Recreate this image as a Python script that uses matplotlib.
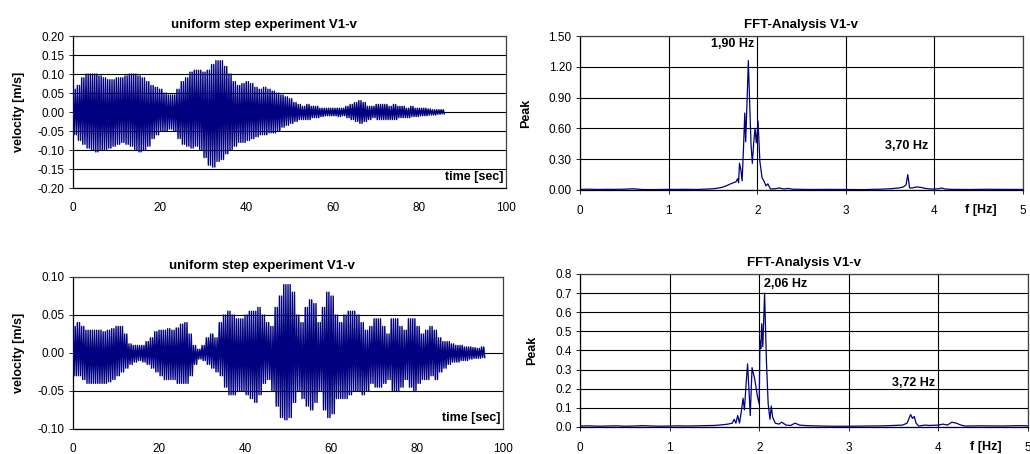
import numpy as np
import matplotlib
matplotlib.use("Agg")
import matplotlib.pyplot as plt

plt.rcParams['font.family'] = ['Liberation Sans', 'DejaVu Sans']

# envelope of the velocity signal, read once per second (upper / lower peaks)
v1_upper = [0.06, 0.07, 0.09, 0.10, 0.10, 0.10, 0.095, 0.09, 0.085, 0.085,
            0.09, 0.09, 0.095, 0.10, 0.10, 0.095, 0.09, 0.08, 0.07, 0.065,
            0.06, 0.05, 0.045, 0.045, 0.06, 0.08, 0.09, 0.105, 0.11, 0.11,
            0.105, 0.11, 0.125, 0.135, 0.135, 0.12, 0.10, 0.08, 0.07, 0.075,
            0.08, 0.075, 0.065, 0.06, 0.065, 0.06, 0.055, 0.05, 0.045, 0.04,
            0.035, 0.025, 0.02, 0.015, 0.02, 0.015, 0.015, 0.01, 0.01, 0.01,
            0.01, 0.01, 0.01, 0.015, 0.02, 0.025, 0.03, 0.025, 0.015, 0.015,
            0.02, 0.02, 0.02, 0.015, 0.02, 0.015, 0.015, 0.01, 0.015, 0.01,
            0.01, 0.01, 0.008, 0.006, 0.006, 0.006]
v1_lower = [-0.06, -0.075, -0.085, -0.095, -0.10, -0.105, -0.10, -0.10, -0.095, -0.09,
            -0.085, -0.08, -0.085, -0.09, -0.10, -0.105, -0.10, -0.09, -0.07, -0.06,
            -0.05, -0.05, -0.045, -0.05, -0.07, -0.085, -0.09, -0.095, -0.09, -0.10,
            -0.12, -0.14, -0.145, -0.13, -0.125, -0.11, -0.10, -0.09, -0.08, -0.08,
            -0.075, -0.07, -0.065, -0.06, -0.06, -0.055, -0.055, -0.05, -0.04, -0.035,
            -0.03, -0.025, -0.02, -0.02, -0.02, -0.015, -0.015, -0.012, -0.01, -0.01,
            -0.01, -0.012, -0.01, -0.015, -0.02, -0.025, -0.03, -0.025, -0.02, -0.015,
            -0.02, -0.02, -0.02, -0.02, -0.02, -0.015, -0.015, -0.015, -0.012, -0.012,
            -0.01, -0.01, -0.008, -0.008, -0.006, -0.005]

v2_upper = [0.035, 0.04, 0.035, 0.03, 0.03, 0.03, 0.03, 0.028, 0.03, 0.032,
            0.035, 0.035, 0.025, 0.012, 0.01, 0.01, 0.01, 0.015, 0.02, 0.028,
            0.03, 0.03, 0.032, 0.03, 0.033, 0.038, 0.04, 0.025, 0.01, 0.005,
            0.01, 0.02, 0.025, 0.02, 0.04, 0.05, 0.055, 0.05, 0.045, 0.045,
            0.05, 0.055, 0.055, 0.06, 0.05, 0.04, 0.035, 0.06, 0.075, 0.09,
            0.09, 0.08, 0.05, 0.04, 0.06, 0.07, 0.065, 0.04, 0.06, 0.08,
            0.075, 0.05, 0.04, 0.05, 0.055, 0.055, 0.05, 0.04, 0.03, 0.035,
            0.045, 0.045, 0.035, 0.025, 0.045, 0.045, 0.035, 0.03, 0.045, 0.045,
            0.035, 0.025, 0.03, 0.035, 0.03, 0.02, 0.015, 0.015, 0.012, 0.01,
            0.01, 0.008, 0.008, 0.007, 0.006, 0.008]
v2_lower = [-0.03, -0.03, -0.035, -0.04, -0.04, -0.04, -0.04, -0.04, -0.038, -0.035,
            -0.03, -0.025, -0.02, -0.015, -0.012, -0.01, -0.012, -0.015, -0.02, -0.025,
            -0.03, -0.035, -0.035, -0.035, -0.04, -0.04, -0.04, -0.03, -0.015, -0.008,
            -0.01, -0.015, -0.02, -0.025, -0.03, -0.045, -0.055, -0.055, -0.05, -0.05,
            -0.055, -0.06, -0.065, -0.055, -0.04, -0.035, -0.05, -0.07, -0.085, -0.088,
            -0.085, -0.065, -0.05, -0.06, -0.07, -0.075, -0.065, -0.05, -0.075, -0.085,
            -0.08, -0.06, -0.06, -0.06, -0.055, -0.05, -0.05, -0.055, -0.05, -0.04,
            -0.045, -0.045, -0.04, -0.035, -0.05, -0.05, -0.045, -0.035, -0.045, -0.05,
            -0.04, -0.035, -0.035, -0.03, -0.035, -0.025, -0.02, -0.015, -0.012, -0.012,
            -0.01, -0.01, -0.008, -0.007, -0.007, -0.006]

# FFT spectra
f1 = [0.0, 0.1, 0.2, 0.3, 0.4, 0.5, 0.6, 0.7, 0.8, 0.9, 1.0, 1.1, 1.2, 1.3, 1.4,
      1.5, 1.55, 1.6, 1.65, 1.7, 1.73, 1.76, 1.78, 1.79, 1.80, 1.815, 1.83, 1.845,
      1.86, 1.87, 1.885, 1.90, 1.915, 1.93, 1.945, 1.96, 1.975, 1.99, 2.01, 2.03,
      2.055, 2.08, 2.10, 2.12, 2.15, 2.2, 2.25, 2.3, 2.35, 2.4, 2.5, 2.6, 2.8, 3.0,
      3.2, 3.4, 3.5, 3.6, 3.65, 3.68, 3.70, 3.72, 3.75, 3.8, 3.85, 3.9, 3.95, 4.0,
      4.05, 4.08, 4.12, 4.2, 4.4, 4.6, 4.8, 5.0]
p1 = [0.006, 0.008, 0.005, 0.007, 0.006, 0.008, 0.012, 0.005, 0.004, 0.005,
      0.006, 0.006, 0.007, 0.005, 0.008, 0.012, 0.018, 0.025, 0.04, 0.06, 0.07,
      0.08, 0.11, 0.07, 0.26, 0.2, 0.09, 0.4, 0.75, 0.47, 0.85, 1.26, 0.85, 0.45,
      0.26, 0.45, 0.60, 0.46, 0.67, 0.28, 0.12, 0.08, 0.04, 0.06, 0.01, 0.012,
      0.02, 0.01, 0.015, 0.008, 0.006, 0.005, 0.006, 0.005, 0.004, 0.008, 0.012,
      0.02, 0.03, 0.05, 0.15, 0.02, 0.02, 0.03, 0.025, 0.015, 0.01, 0.01, 0.012,
      0.02, 0.01, 0.006, 0.005, 0.007, 0.006, 0.005]

f2 = [0.0, 0.1, 0.2, 0.3, 0.4, 0.5, 0.6, 0.7, 0.8, 0.9, 1.0, 1.1, 1.2, 1.3, 1.4,
      1.5, 1.55, 1.6, 1.65, 1.7, 1.72, 1.74, 1.76, 1.78, 1.80, 1.82, 1.835, 1.85,
      1.87, 1.885, 1.90, 1.92, 1.95, 1.98, 2.0, 2.008, 2.018, 2.028, 2.04, 2.06,
      2.08, 2.10, 2.12, 2.135, 2.15, 2.18, 2.22, 2.25, 2.3, 2.35, 2.4, 2.45, 2.5,
      2.6, 2.8, 3.0, 3.2, 3.4, 3.5, 3.6, 3.65, 3.69, 3.71, 3.73, 3.75, 3.78, 3.85,
      3.9, 4.0, 4.05, 4.1, 4.15, 4.2, 4.25, 4.3, 4.5, 4.7, 4.9, 5.0]
p2 = [0.005, 0.006, 0.004, 0.005, 0.006, 0.004, 0.005, 0.007, 0.005, 0.004,
      0.005, 0.006, 0.005, 0.006, 0.007, 0.008, 0.01, 0.012, 0.015, 0.02, 0.04,
      0.02, 0.06, 0.02, 0.08, 0.15, 0.09, 0.2, 0.33, 0.2, 0.06, 0.31, 0.25, 0.16,
      0.12, 0.45, 0.41, 0.54, 0.42, 0.70, 0.35, 0.12, 0.04, 0.11, 0.05, 0.02,
      0.015, 0.025, 0.01, 0.008, 0.02, 0.01, 0.008, 0.006, 0.004, 0.004, 0.005,
      0.006, 0.008, 0.01, 0.02, 0.065, 0.045, 0.055, 0.02, 0.005, 0.01, 0.008,
      0.01, 0.015, 0.01, 0.025, 0.02, 0.01, 0.005, 0.006, 0.005, 0.007, 0.006]

line_col = '#000080'


def zigzag(upper, lower):
    # roughly two cycles per second (~1.9 Hz), each at that second's peak levels
    n = len(upper)
    t = np.arange(n, dtype=float)
    x = np.empty(4 * n)
    y = np.empty(4 * n)
    for k in range(4):
        x[k::4] = t + 0.25 * k
    y[0::4] = upper
    y[1::4] = lower
    y[2::4] = upper
    y[3::4] = lower
    return x, y


def style_axes(ax):
    for s in ax.spines.values():
        s.set_color('#404040')
        s.set_linewidth(0.9)
    ax.spines['left'].set_color('black')
    ax.spines['bottom'].set_color('black')
    ax.tick_params(axis='both', labelsize=8.5, colors='black')


def time_panel(ax, upper, lower, ylim, yticks, fmt):
    x, y = zigzag(upper, lower)
    ax.plot(x, y, color=line_col, lw=1.0, zorder=3)
    ax.set_xlim(0, 100)
    ax.set_ylim(*ylim)
    ax.set_yticks(yticks)
    ax.set_yticklabels([fmt % v for v in yticks])
    ax.set_xticks([0, 20, 40, 60, 80, 100])
    ax.yaxis.grid(True, color='black', lw=0.8)
    ax.set_axisbelow(True)
    ax.tick_params(axis='x', length=0, pad=10)
    ax.tick_params(axis='y', length=3, width=0.6, color='#606060', pad=3)
    ax.set_ylabel('velocity [m/s]', fontsize=9, fontweight='bold', labelpad=9)
    ax.text(0.995, 0.035, 'time [sec]', transform=ax.transAxes, ha='right',
            va='bottom', fontsize=9, fontweight='bold')
    ax.set_title('uniform step experiment V1-v', fontsize=9.5, fontweight='bold',
                 pad=6, x=0.44)
    style_axes(ax)


def fft_panel(ax, f, p, ylim, yticks, fmt, labels):
    ax.plot(f, p, color=line_col, lw=0.9, zorder=3)
    ax.set_xlim(0, 5)
    ax.set_ylim(*ylim)
    ax.set_yticks(yticks)
    ax.set_yticklabels([fmt % v for v in yticks])
    ax.set_xticks([0, 1, 2, 3, 4, 5])
    ax.grid(True, color='black', lw=0.8)
    ax.set_axisbelow(True)
    ax.tick_params(axis='x', length=3, width=0.6, pad=8)
    ax.tick_params(axis='y', length=3, width=0.6, color='#606060', pad=3)
    ax.set_ylabel('Peak', fontsize=9, fontweight='bold', labelpad=12)
    ax.set_title('FFT-Analysis V1-v', fontsize=9.5, fontweight='bold', pad=6)
    for xt, yt, txt in labels:
        ax.text(xt, yt, txt, ha='center', va='center', fontsize=9, fontweight='bold')
    ax.text(0.905, -0.13, 'f [Hz]', transform=ax.transAxes, ha='center',
            va='center', fontsize=9, fontweight='bold')
    style_axes(ax)


fig = plt.figure(figsize=(10.3, 4.54), dpi=100)

ax1 = fig.add_axes([0.0709, 0.5859, 0.4204, 0.3348])
time_panel(ax1, v1_upper, v1_lower, (-0.2, 0.2),
           [-0.20, -0.15, -0.10, -0.05, 0.0, 0.05, 0.10, 0.15, 0.20], '%.2f')

ax2 = fig.add_axes([0.5631, 0.5815, 0.4301, 0.3392])
fft_panel(ax2, f1, p1, (0, 1.5), [0.0, 0.3, 0.6, 0.9, 1.2, 1.5], '%.2f',
          [(1.72, 1.42, '1,90 Hz'), (3.69, 0.43, '3,70 Hz')])

ax3 = fig.add_axes([0.0709, 0.0551, 0.4175, 0.3348])
time_panel(ax3, v2_upper, v2_lower, (-0.1, 0.1),
           [-0.10, -0.05, 0.0, 0.05, 0.10], '%.2f')

ax4 = fig.add_axes([0.5631, 0.0595, 0.4350, 0.3370])
fft_panel(ax4, f2, p2, (0, 0.8), [0.0, 0.1, 0.2, 0.3, 0.4, 0.5, 0.6, 0.7, 0.8], '%.1f',
          [(2.30, 0.75, '2,06 Hz'), (3.72, 0.23, '3,72 Hz')])

fig.savefig('out.png', dpi=100)
